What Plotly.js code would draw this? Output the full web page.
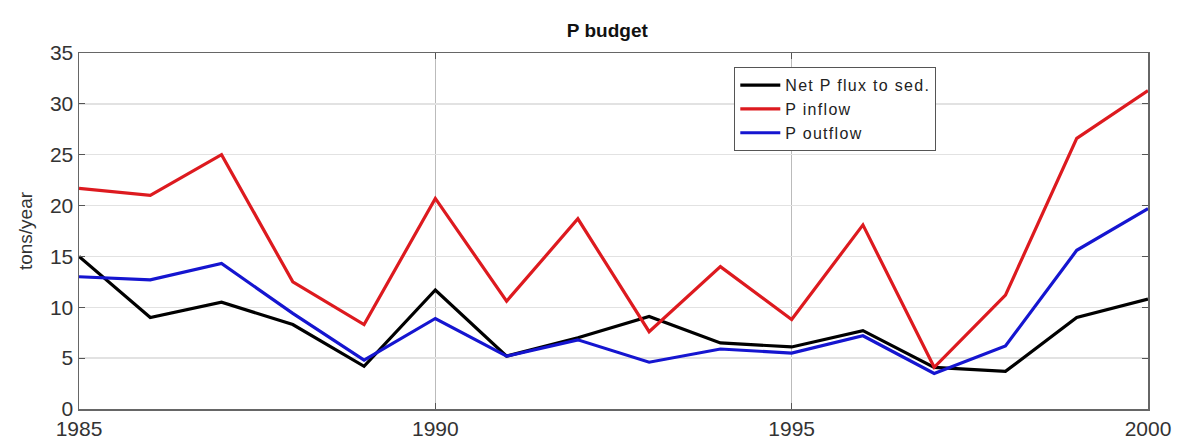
<!DOCTYPE html>
<html>
<head>
<meta charset="utf-8">
<script src="https://cdn.plot.ly/plotly-3.0.1.min.js"></script>
<style>html,body{margin:0;padding:0;background:#fff;}#chart{width:1177px;height:439px;}</style>
</head>
<body>
<div id="chart"></div>
<script>
const years = [1985,1986,1987,1988,1989,1990,1991,1992,1993,1994,1995,1996,1997,1998,1999,2000];
const netFlux = [15.0,9.0,10.5,8.3,4.2,11.7,5.2,7.0,9.1,6.5,6.1,7.7,4.1,3.7,9.0,10.8];
const pInflow = [21.7,21.0,25.0,12.5,8.3,20.7,10.6,18.7,7.6,14.0,8.8,18.1,4.1,11.2,26.6,31.3];
const pOutflow = [13.0,12.7,14.3,9.4,4.8,8.9,5.2,6.8,4.6,5.9,5.5,7.2,3.5,6.2,15.6,19.7];
const seriesNames = ["Net P flux to sed.","P inflow","P outflow"];
const xTicks = [1985,1990,1995,2000];
const yTicks = [0,5,10,15,20,25,30,35];

const font = "Liberation Sans, Arial, sans-serif";
const spaced = s => '<span style="letter-spacing:1.3px">' + s + '</span>';
const traces = [
  {x: years, y: netFlux, name: spaced(seriesNames[0]), mode: "lines", line: {color: "#000000", width: 3.2}},
  {x: years, y: pInflow, name: spaced(seriesNames[1]), mode: "lines", line: {color: "#dd1a1f", width: 3.2}},
  {x: years, y: pOutflow, name: spaced(seriesNames[2]), mode: "lines", line: {color: "#1515d0", width: 3.2}}
];
const layout = {
  width: 1177, height: 439,
  margin: {l: 79, r: 29, t: 53, b: 30},
  paper_bgcolor: "#fff", plot_bgcolor: "#fff",
  font: {family: font, color: "#333"},
  title: {text: "<b>P budget</b>", x: 0.516, xanchor: "center", y: 0.93, yanchor: "middle", font: {size: 19, color: "#111", family: font}},
  showlegend: true,
  legend: {x: 0.613, y: 0.96, xanchor: "left", yanchor: "top", bgcolor: "#fff", bordercolor: "#555", borderwidth: 1,
           font: {size: 16, color: "#222", family: font}, tracegroupgap: 0, itemwidth: 40},
  xaxis: {range: [1985, 2000], tickvals: xTicks, ticktext: xTicks.map(String), ticks: "inside", ticklen: 6,
          tickcolor: "#555", showline: true, linecolor: "#666", linewidth: 1.5, mirror: "ticks",
          showgrid: true, gridcolor: "#bbb", gridwidth: 1, zeroline: false,
          tickfont: {size: 21, color: "#333", family: font}, automargin: false},
  yaxis: {range: [0, 35], tickvals: yTicks, ticktext: yTicks.map(String), ticks: "inside", ticklen: 6,
          tickcolor: "#555", showline: true, linecolor: "#666", linewidth: 1.5, mirror: "ticks",
          showgrid: true, gridcolor: "#e2e2e2", gridwidth: 1.5, zeroline: false,
          tickfont: {size: 21, color: "#333", family: font}, automargin: false,
          title: {text: "tons/year", font: {size: 19, color: "#333", family: font}, standoff: 12}}
};
Plotly.newPlot("chart", traces, layout, {displayModeBar: false, staticPlot: true});
</script>
</body>
</html>
